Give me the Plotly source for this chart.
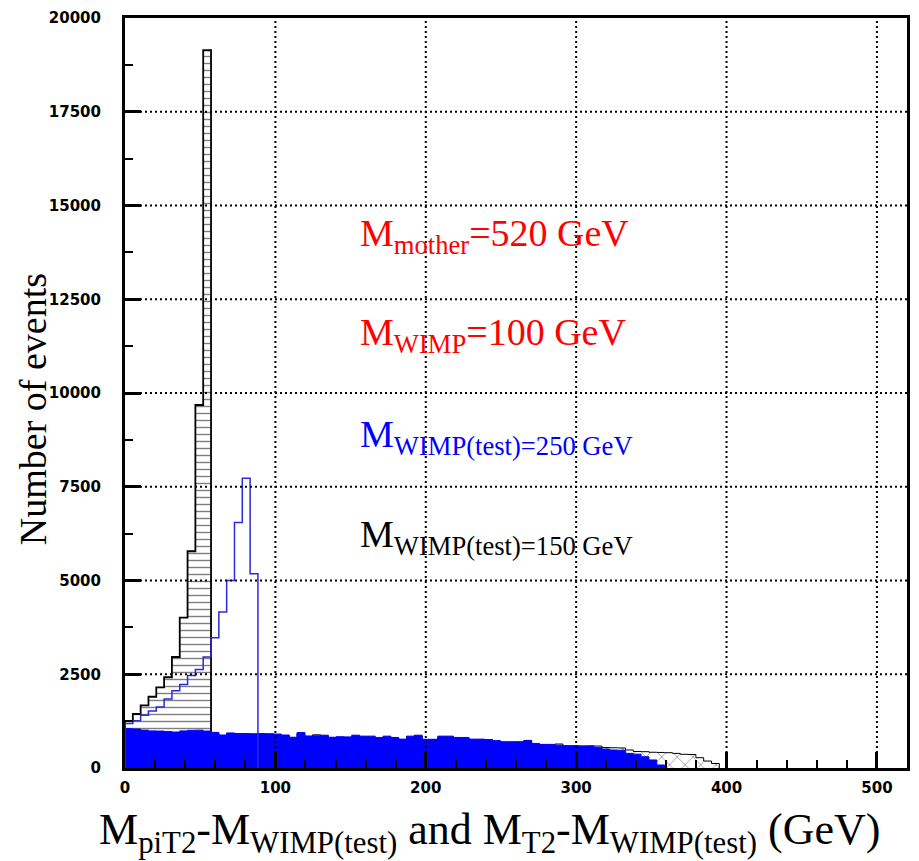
import numpy as np
import plotly.graph_objects as go

# ---------------- data ----------------
bin_width = 5.2  # GeV (100 bins from 0 to 520)

# M_piT2 - M_WIMP(test), M_WIMP(test)=150 GeV (black, horizontal hatch)
mpit2_150 = [1250, 1440, 1670, 1900, 2150, 2420, 2960, 4010, 5780, 9680, 19140]

# M_piT2 - M_WIMP(test), M_WIMP(test)=250 GeV (blue outline)
mpit2_250 = [1190, 1260, 1410, 1520, 1630, 1840, 2060, 2230, 2470, 2630, 2960,
             3475, 4160, 5000, 6550, 7730, 5180]

# M_T2 - M_WIMP(test), M_WIMP(test)=250 GeV (blue filled)
mt2_250 = [1050, 1040, 1010, 990, 985, 975, 960, 990, 1005, 1010,
           985, 950, 880, 935, 920, 920, 915, 920, 915, 905,
           880, 820, 945, 855, 860, 875, 820, 835, 830, 875,
           850, 850, 815, 850, 815, 770, 850, 875, 765, 765,
           850, 850, 815, 815, 770, 770, 760, 730, 700, 700,
           700, 725, 655, 630, 630, 610, 595, 595, 590, 590,
           550, 505, 480, 475, 390, 370, 300, 215, 80]

# M_T2 - M_WIMP(test), M_WIMP(test)=150 GeV (black, cross hatch)
mt2_150 = [1020, 1010, 990, 970, 960, 950, 940, 960, 975, 980,
           960, 930, 860, 910, 900, 895, 890, 895, 890, 880,
           860, 800, 910, 835, 885, 850, 800, 815, 810, 850,
           830, 825, 800, 825, 795, 755, 825, 850, 750, 750,
           825, 825, 795, 790, 750, 750, 740, 715, 685, 685,
           690, 735, 640, 620, 620, 640, 590, 585, 580, 585,
           585, 545, 540, 535, 480, 440, 435, 420, 415, 408,
           390, 365, 360, 275, 185, 120]

x_range = [0, 520]
y_range = [0, 20000]
x_ticks = [0, 100, 200, 300, 400, 500]
x_labels = ["0", "100", "200", "300", "400", "500"]
y_ticks = [0, 2500, 5000, 7500, 10000, 12500, 15000, 17500, 20000]
y_labels = ["0", "2500", "5000", "7500", "10000", "12500", "15000", "17500", "20000"]


def step_xy(vals):
    edges = np.arange(len(vals) + 1) * bin_width
    xs = [0.0] + list(edges[:-1]) + [edges[-1], edges[-1]]
    ys = [0] + list(vals) + [vals[-1], 0]
    return xs, ys


fig = go.Figure()

xs, ys = step_xy(mt2_150)
fig.add_trace(go.Scatter(x=xs, y=ys, mode="lines", line=dict(shape="hv", color="black", width=1),
                         fill="tozeroy", fillcolor="rgba(0,0,0,0)",
                         fillpattern=dict(shape="x", fgcolor="black", bgcolor="rgba(0,0,0,0)",
                                          size=11, solidity=0.12),
                         hoverinfo="skip", showlegend=False))

xs, ys = step_xy(mpit2_150)
fig.add_trace(go.Scatter(x=xs, y=ys, mode="lines", line=dict(shape="hv", color="black", width=1.8),
                         fill="tozeroy", fillcolor="rgba(0,0,0,0)",
                         fillpattern=dict(shape="-", fgcolor="black", bgcolor="rgba(0,0,0,0)",
                                          size=7, solidity=0.2),
                         hoverinfo="skip", showlegend=False))

xs, ys = step_xy(mt2_250)
fig.add_trace(go.Scatter(x=xs, y=ys, mode="lines", line=dict(shape="hv", color="#0000ff", width=1),
                         fill="tozeroy", fillcolor="#0000ff",
                         hoverinfo="skip", showlegend=False))

xs, ys = step_xy(mpit2_250)
fig.add_trace(go.Scatter(x=xs, y=ys, mode="lines", line=dict(shape="hv", color="#2a2ad8", width=1.5),
                         hoverinfo="skip", showlegend=False))

# grid lines drawn above the histograms (as in the original)
grid_style = dict(color="black", width=2, dash="2px,3px")
shapes = []
for t in x_ticks[1:]:
    shapes.append(dict(type="line", xref="x", yref="paper", x0=t, x1=t, y0=0, y1=1,
                       line=grid_style, layer="above"))
for t in y_ticks[1:-1]:
    shapes.append(dict(type="line", xref="paper", yref="y", x0=0, x1=1, y0=t, y1=t,
                       line=grid_style, layer="above"))

tick_font = dict(family="DejaVu Sans", size=15, color="black", weight="bold")
serif = "Liberation Serif, Times New Roman, serif"

fig.update_layout(
    width=919, height=861,
    margin=dict(l=125, r=9, t=17, b=93),
    plot_bgcolor="white", paper_bgcolor="white",
    shapes=shapes,
    xaxis=dict(range=x_range, tickvals=x_ticks, ticktext=x_labels, showline=True, linewidth=3,
               linecolor="black", mirror=True, ticks="inside", ticklen=16, tickwidth=3,
               tickcolor="black", showgrid=False, zeroline=False, tickfont=tick_font,
               ticklabelstandoff=4, layer="above traces",
               minor=dict(ticks="inside", ticklen=8, tickwidth=2, dtick=20, tick0=0,
                          tickcolor="black", showgrid=False)),
    yaxis=dict(range=y_range, tickvals=y_ticks, ticktext=y_labels, showline=True, linewidth=3,
               linecolor="black", mirror=True, ticks="inside", ticklen=16, tickwidth=3,
               tickcolor="black", showgrid=False, zeroline=False, tickfont=tick_font,
               ticklabelstandoff=18, layer="above traces",
               minor=dict(ticks="inside", ticklen=8, tickwidth=2, dtick=1250, tick0=0,
                          tickcolor="black", showgrid=False)),
)

annos = [
    dict(text="M<sub>mother</sub>=520 GeV", x=155, y=14200, color="#ff0000"),
    dict(text="M<sub>WIMP</sub>=100 GeV", x=155, y=11560, color="#ff0000"),
    dict(text="M<sub>WIMP(test)=250 GeV</sub>", x=155, y=8830, color="#0000ff"),
    dict(text="M<sub>WIMP(test)=150 GeV</sub>", x=155, y=6170, color="black"),
]
for a in annos:
    fig.add_annotation(text=a["text"], x=a["x"], y=a["y"], xref="x", yref="y",
                       xanchor="left", yanchor="middle", showarrow=False,
                       font=dict(family=serif, size=38, color=a["color"]))

fig.add_annotation(text="Number of events", xref="paper", yref="paper",
                   x=-0.118, y=0.478, textangle=-90, showarrow=False,
                   xanchor="center", yanchor="middle",
                   font=dict(family=serif, size=38, color="black"))

fig.add_annotation(text="M<sub>piT2</sub>-M<sub>WIMP(test)</sub> and M<sub>T2</sub>-M<sub>WIMP(test)</sub> (GeV)",
                   xref="paper", yref="paper", x=0.466, y=-0.086, showarrow=False,
                   xanchor="center", yanchor="middle",
                   font=dict(family=serif, size=44, color="black"))

fig.write_html("out.html")
